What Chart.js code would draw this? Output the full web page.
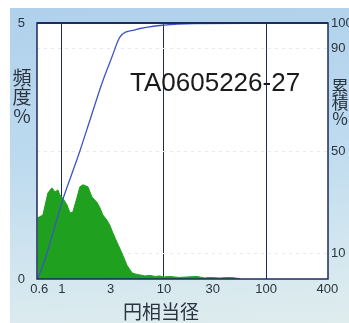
<!DOCTYPE html>
<html><head><meta charset="utf-8">
<script src="https://cdn.jsdelivr.net/npm/chart.js@4/dist/chart.umd.min.js"></script>
<style>
html,body{margin:0;padding:0;background:#fff;}
#wrap{position:absolute;left:0;top:0;width:349px;height:323px;}
#panel{position:absolute;left:10px;top:8px;width:339px;height:315px;
 background:linear-gradient(175deg,#b0d1ec 0%,#bddaef 45%,#d4e7ef 80%,#e0edee 100%);}
canvas{position:absolute;left:0;top:0;}
</style></head>
<body>
<div id="wrap"><div id="panel"></div><canvas id="c" width="349" height="323"></canvas></div>
<script>
// Frequency histogram (size µm, frequency %)
const histSizes = [0.575,0.582,0.651,0.729,0.798,0.854,0.913,0.956,1.02,1.12,1.20,1.28,1.40,1.50,1.61,1.80,1.97,2.20,2.36,2.52,2.76,2.95,3.16,3.46,3.87,4.34,4.86,5.2,5.8,6.5,7.3,8.2,9.1,10,11.4,14,17,21,25,28,35,45,50,56];
const histFreq  = [1.19,1.19,1.25,1.68,1.78,1.70,1.74,1.64,1.58,1.45,1.29,1.31,1.58,1.80,1.84,1.80,1.60,1.50,1.39,1.25,1.15,1.05,0.90,0.72,0.51,0.27,0.12,0.10,0.08,0.06,0.07,0.05,0.06,0.04,0.05,0.03,0.04,0.05,0.02,0.03,0.02,0.03,0.02,0];
// Cumulative curve (size µm, cumulative %)
const cumSizes = [0.575,0.68,0.816,1.02,1.25,1.50,1.88,2.47,3.09,3.70,5.2,10,20,400];
const cumPct   = [0,7.4,18,31,41,50,62,76.5,86.7,94.5,97.3,99.2,99.8,100];
const xTicks = [0.6,1,3,10,30,100,400];
const leftTicks = [0,5];
const rightTicks = [10,50,90,100];
const xGridAt = [1,10,100];
const rightGridAt = [10,50,90];

const NAVY = '#1c2a5e';
const TXT = '#2b3440';

const deco = {
  id:'deco',
  beforeDraw(chart){
    const {ctx, chartArea:a} = chart;
    ctx.save(); ctx.fillStyle='#ffffff';
    ctx.fillRect(a.left,a.top,a.right-a.left,a.bottom-a.top); ctx.restore();
  },
  afterDraw(chart){
    const {ctx, chartArea:a} = chart;
    ctx.save();
    ctx.strokeStyle = NAVY; ctx.lineWidth = 1.5;
    ctx.strokeRect(a.left,a.top,a.right-a.left,a.bottom-a.top);
    ctx.lineWidth = 2;
    ctx.beginPath(); ctx.moveTo(a.left,a.top); ctx.lineTo(a.right,a.top); ctx.stroke();
    ctx.fillStyle = TXT;
    ctx.textAlign='center'; ctx.textBaseline='middle';
    ctx.font = '19px "Noto Sans CJK JP"';
    ['頻','度','%'].forEach((c,i)=>ctx.fillText(c, 22, 78+i*19));
    ctx.font = '17px "Noto Sans CJK JP"';
    ['累','積','%'].forEach((c,i)=>ctx.fillText(c, 340, 87+i*16));
    ctx.font = '19px "Noto Sans CJK JP"';
    ctx.fillText('円相当径', 161, 312);
    ctx.fillStyle = '#1a1a1a';
    ctx.textAlign='left'; ctx.textBaseline='alphabetic';
    ctx.font = '26px "Liberation Sans", Arial, sans-serif';
    ctx.fillText('TA0605226-27', 130, 91);
    ctx.restore();
  }
};

const tickFont = {family:'"Liberation Sans", Arial, sans-serif', size:13};

new Chart(document.getElementById('c'), {
  data:{datasets:[
    {type:'line', label:'累積', data:cumSizes.map((s,i)=>({x:s,y:cumPct[i]})), yAxisID:'y2',
     borderColor:'#3d55c4', borderWidth:1.3, pointRadius:0, fill:false, cubicInterpolationMode:'monotone', order:0},
    {type:'line', label:'頻度', data:histSizes.map((s,i)=>({x:s,y:histFreq[i]})), yAxisID:'y',
     borderColor:'#1fa01f', backgroundColor:'#1fa01f', borderWidth:1, pointRadius:0, fill:'origin', tension:0, order:1}
  ]},
  options:{
    responsive:false, animation:false, devicePixelRatio:1,
    layout:{padding:{top:23,left:0,right:0,bottom:0}},
    plugins:{legend:{display:false}, tooltip:{enabled:false}},
    scales:{
      x:{type:'logarithmic', min:0.57, max:405,
        afterBuildTicks:s=>{s.ticks = xTicks.map(v=>({value:v}));},
        afterFit:s=>{s.height=44;},
        ticks:{callback:v=>String(v), autoSkip:false, maxRotation:0, padding:3, color:TXT, font:tickFont},
        grid:{drawTicks:false, color:c=> (c.tick && xGridAt.includes(c.tick.value)) ? NAVY : 'rgba(0,0,0,0)', lineWidth:1},
        border:{display:false}},
      y:{position:'left', min:0, max:5,
        afterBuildTicks:s=>{s.ticks = leftTicks.map(v=>({value:v}));},
        afterFit:s=>{s.width=37;},
        ticks:{padding:4, color:TXT, font:tickFont},
        grid:{display:false}, border:{display:false}},
      y2:{position:'right', min:0, max:100,
        afterBuildTicks:s=>{s.ticks = rightTicks.map(v=>({value:v}));},
        afterFit:s=>{s.width=21;},
        ticks:{padding:3, color:TXT, font:tickFont},
        grid:{drawTicks:false, color:c=> (c.tick && rightGridAt.includes(c.tick.value)) ? '#e6eaf0' : 'rgba(0,0,0,0)', lineWidth:1},
        border:{display:false, dash:[3,4]}}
    }
  },
  plugins:[deco]
});
</script>
</body></html>
